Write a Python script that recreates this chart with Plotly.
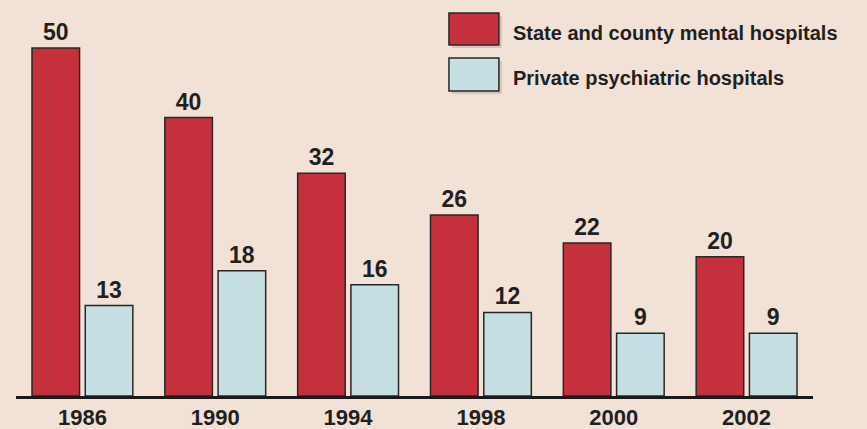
import plotly.graph_objects as go

years = ["1986", "1990", "1994", "1998", "2000", "2002"]
state_county = [50, 40, 32, 26, 22, 20]
private_psych = [13, 18, 16, 12, 9, 9]
series_names = ["State and county mental hospitals", "Private psychiatric hospitals"]

BG = "#f1e1d6"
RED = "#c4303c"
BLUE = "#c6dfe2"
INK = "#231f20"
FONT = "Liberation Sans, Arial, sans-serif"

W, H = 867, 429
ML, MR, MT, MB = 15.5, 53.5, 0, 33
PW, PH = W - ML - MR, H - MT - MB

fig = go.Figure()
for name, vals, col in [(series_names[0], state_county, RED), (series_names[1], private_psych, BLUE)]:
    fig.add_trace(go.Bar(
        x=years, y=vals, name=name,
        marker=dict(color=col, line=dict(color="#2a2626", width=1.5)),
        text=[str(v) for v in vals], textposition="outside",
        textfont=dict(family=FONT, size=23, color=INK, weight="bold"),
        constraintext="none", cliponaxis=False, showlegend=False,
        hoverinfo="skip",
    ))

def px2paper(x, y):
    return (x - ML) / PW, (H - MB - y) / PH

shapes = []
annotations = []
boxes = [(449, 13, 499, 45, RED, 33), (449, 58, 499, 91, BLUE, 78)]
for (x0, y0, x1, y1, col, ty), name in zip(boxes, series_names):
    a0, b0 = px2paper(x0 + 3, y1 + 3)
    a1, b1 = px2paper(x1 + 3, y0 + 3)
    shapes.append(dict(type="rect", xref="paper", yref="paper", x0=a0, y0=b0, x1=a1, y1=b1,
                       fillcolor="rgba(90,70,60,0.18)", line=dict(width=0), layer="above"))
    a0, b0 = px2paper(x0, y1)
    a1, b1 = px2paper(x1, y0)
    shapes.append(dict(type="rect", xref="paper", yref="paper", x0=a0, y0=b0, x1=a1, y1=b1,
                       fillcolor=col, line=dict(color="#2a2626", width=1.5), layer="above"))
    tx, tyy = px2paper(511, ty)
    annotations.append(dict(xref="paper", yref="paper", x=tx, y=tyy, xanchor="left", yanchor="middle",
                            text=name, showarrow=False,
                            font=dict(family=FONT, size=20, color=INK, weight="bold")))

fig.update_layout(
    width=W, height=H,
    margin=dict(l=ML, r=MR, t=MT, b=MB, pad=0),
    paper_bgcolor=BG, plot_bgcolor=BG,
    barmode="group", bargap=0.198, bargroupgap=0.107,
    shapes=shapes, annotations=annotations,
    font=dict(family=FONT, color=INK),
)
fig.update_xaxes(showline=True, linecolor="#1a1a1a", linewidth=3, ticks="", showgrid=False,
                 tickfont=dict(family=FONT, size=22, color=INK, weight="bold"), fixedrange=True)
fig.update_yaxes(range=[0, PH / 6.96], visible=False, showgrid=False, zeroline=False, fixedrange=True)

fig.write_html("out.html", config={"displayModeBar": False},
               post_script="document.body.style.margin='0';document.body.style.background='%s';" % BG)
